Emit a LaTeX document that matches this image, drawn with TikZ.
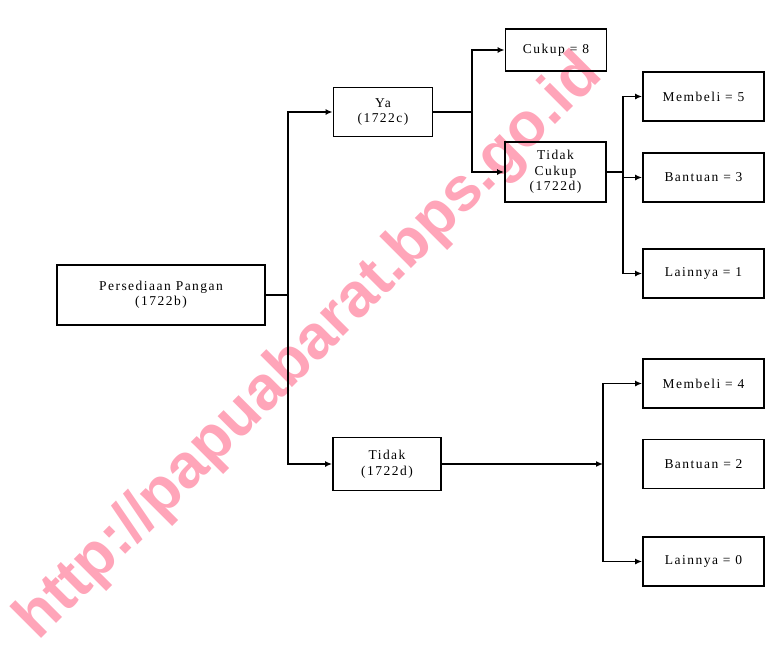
\documentclass[tikz,border=0pt]{standalone}
\usepackage{fontspec}
\setmainfont{Liberation Serif}
\newfontfamily\wmfont{Liberation Sans}
\newfontfamily\boxfont{Liberation Serif}[LetterSpace=11]
\usetikzlibrary{arrows.meta}
\definecolor{wmpink}{RGB}{255,165,185}
\begin{document}
\begin{tikzpicture}[x=1pt,y=-1pt,
  box/.style={draw, line width=1.8pt, inner sep=0pt, align=center,
    font=\boxfont\fontsize{13.5}{15.5}\selectfont},
  conn/.style={line width=1.8pt},
  arr/.style={line width=1.8pt, -{Latex[length=7pt,width=6pt]}},
  watermark/.style={text=wmpink, rotate=45, inner sep=0pt,
    font=\wmfont\bfseries\fontsize{62}{62}\selectfont}]
\useasboundingbox (0,0) rectangle (766,653);
% watermark (behind)
\node[watermark] (wm) at (310,348) {http://papuabarat.bps.go.id};
% boxes
\node[box, minimum width=208pt, minimum height=60pt] (P) at (161,295) {Persediaan Pangan\\(1722b)};
\node[box, minimum width=99pt, minimum height=49pt] (Ya) at (383,112) {Ya\\(1722c)};
\node[box, minimum width=108pt, minimum height=53pt] (Td) at (387,464) {Tidak\\(1722d)};
\node[box, minimum width=101pt, minimum height=42pt] (Ck) at (556,50) {Cukup = 8};
\node[box, minimum width=101pt, minimum height=60pt] (TC) at (555.5,172) {Tidak\\Cukup\\(1722d)};
\node[box, minimum width=121pt, minimum height=49pt] (M5) at (703.5,96.5) {Membeli = 5};
\node[box, minimum width=121pt, minimum height=49pt] (B3) at (703.5,177.5) {Bantuan = 3};
\node[box, minimum width=121pt, minimum height=49pt] (L1) at (703.5,273.5) {Lainnya = 1};
\node[box, minimum width=121pt, minimum height=49pt] (M4) at (703.5,383.5) {Membeli = 4};
\node[box, minimum width=121pt, minimum height=49pt] (B2) at (703.5,464) {Bantuan = 2};
\node[box, minimum width=121pt, minimum height=49pt] (L0) at (703.5,561.5) {Lainnya = 0};
% connectors
\coordinate (j1) at (288,295);
\coordinate (j2) at (472,112);
\coordinate (j3) at (623,172);
\coordinate (j4) at (603,464);
\draw[conn] (P.east) -- (j1);
\draw[arr] (j1) |- (Ya.west);
\draw[arr] (j1) |- (Td.west);
\draw[conn] (Ya.east) -- (j2);
\draw[arr] (j2) |- (Ck.west);
\draw[arr] (j2) |- (TC.west);
\draw[conn] (TC.east) -- (j3);
\draw[arr] (j3) |- (M5.west);
\draw[arr] (j3) |- (B3.west);
\draw[arr] (j3) |- (L1.west);
\draw[arr] (Td.east) -- (j4);
\draw[arr] (j4) |- (M4.west);
\draw[arr] (j4) |- (L0.west);
\end{tikzpicture}
\end{document}
